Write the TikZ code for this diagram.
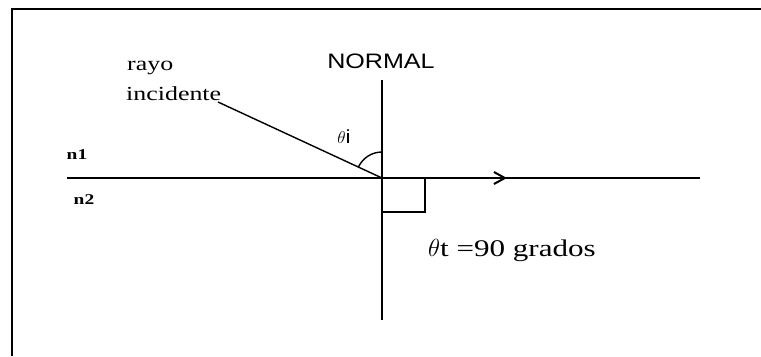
\documentclass[tikz,border=0pt]{standalone}
\usepackage{fontspec}
\setmainfont{Liberation Serif}
\newfontfamily\wideserif[FakeStretch=1.3]{Liberation Serif}
\newfontfamily\widesans[FakeStretch=1.2]{Liberation Sans}
\usetikzlibrary{arrows.meta,calc,positioning}
\tikzset{
  medium text/.style={font=\wideserif\fontsize{20}{22}\selectfont,inner sep=0pt},
  index text/.style={font=\wideserif\bfseries\fontsize{15}{17}\selectfont,inner sep=0pt},
  thick line/.style={line width=2bp},
  thin line/.style={line width=1.4bp},
}

\begin{document}
\begin{tikzpicture}[x=1bp,y=-1bp]
  \useasboundingbox (0,0) rectangle (761,356);
  % frame
  \draw[line width=2.5bp] (12,356) -- (12,9) -- (761,9);
  % points
  \coordinate (o) at (382,178);
  \coordinate (normalTop) at (382,80);
  \coordinate (normalBot) at (382,320);
  \coordinate (surfLeft) at (67,178);
  \coordinate (surfRight) at (700,178);
  \coordinate (tip) at (507,178);
  \coordinate (rayStart) at (218,102);
  % labels
  \node[font=\widesans\fontsize{21}{23}\selectfont,inner sep=0pt] (normal) at (381,61) {NORMAL};
  \node[medium text,anchor=west] (rayo) at (127,68) {rayo};
  \node[medium text,anchor=west] (incidente) at (126,94) {incidente};
  \node[index text] (n1) at (77,155) {n1};
  \node[index text] (n2) at (84,200) {n2};
  \node[font=\widesans\fontsize{19}{21}\selectfont,inner sep=0pt] (thetaI) at (344,137) {$\theta$i};
  \node[font=\wideserif\fontsize{24}{26}\selectfont,inner sep=0pt,anchor=west] (thetaT) at (428,250)
    {$\theta$t =90 grados};
  % lines
  \draw[thick line] (normalTop) -- (normalBot);
  \draw[thick line] (surfLeft) -- (surfRight);
  \draw[thin line] (rayStart) -- (o);
  \draw[thick line,-{Straight Barb[length=11bp,width=12bp]}] (o) -- (tip);
  \draw[line width=1.4bp] (o) ++(0,-26) arc (-90:-155:26);
  \draw[thick line] ($(o)+(43,0)$) -- ($(o)+(43,34)$) -- ($(o)+(0,34)$);
\end{tikzpicture}
\end{document}
